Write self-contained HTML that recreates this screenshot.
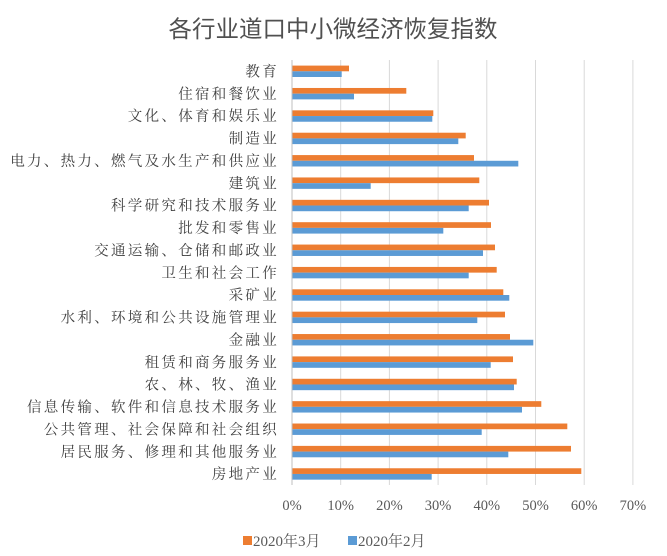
<!DOCTYPE html>
<html><head><meta charset="utf-8"><style>
html,body{margin:0;padding:0;background:#fff;}
svg{display:block;}
.lab{font-family:"Liberation Serif","Noto Serif CJK SC",serif;font-size:14.5px;fill:#404040;letter-spacing:2.3px;}
.tick{font-family:"Liberation Serif","Noto Serif CJK SC",serif;font-size:14.5px;fill:#595959;}
.leg{font-family:"Liberation Serif","Noto Serif CJK SC",serif;font-size:15px;fill:#595959;}
</style></head><body>
<svg width="667" height="556" viewBox="0 0 667 556" xmlns="http://www.w3.org/2000/svg">
<text x="333" y="37" text-anchor="middle" font-family="'Liberation Sans','Noto Sans CJK SC',sans-serif" font-size="23.5" fill="#505050">各行业道口中小微经济恢复指数</text>
<g stroke="#d9d9d9" stroke-width="1">
<line x1="340.7" y1="60" x2="340.7" y2="485"/><line x1="389.4" y1="60" x2="389.4" y2="485"/>
<line x1="438.1" y1="60" x2="438.1" y2="485"/><line x1="486.8" y1="60" x2="486.8" y2="485"/>
<line x1="535.5" y1="60" x2="535.5" y2="485"/><line x1="584.2" y1="60" x2="584.2" y2="485"/>
<line x1="632.9" y1="60" x2="632.9" y2="485"/>
</g>
<line x1="292" y1="60" x2="292" y2="485" stroke="#bfbfbf"/>
<g id="bars"></g>
<g class="tick" text-anchor="middle">
<text x="292" y="510">0%</text><text x="340.7" y="510">10%</text><text x="389.4" y="510">20%</text>
<text x="438.1" y="510">30%</text><text x="486.8" y="510">40%</text><text x="535.5" y="510">50%</text>
<text x="584.2" y="510">60%</text><text x="632.9" y="510">70%</text>
</g>
<rect x="243" y="536" width="9" height="9" fill="#ED7D31"/>
<text x="253" y="546" class="leg">2020年3月</text>
<rect x="348" y="536" width="9" height="9" fill="#5B9BD5"/>
<text x="358" y="546" class="leg">2020年2月</text>
<g id="labs" class="lab" text-anchor="end"></g>
</svg>
<script>
var names=["教育","住宿和餐饮业","文化、体育和娱乐业","制造业","电力、热力、燃气及水生产和供应业","建筑业","科学研究和技术服务业","批发和零售业","交通运输、仓储和邮政业","卫生和社会工作","采矿业","水利、环境和公共设施管理业","金融业","租赁和商务服务业","农、林、牧、渔业","信息传输、软件和信息技术服务业","公共管理、社会保障和社会组织","居民服务、修理和其他服务业","房地产业"];
var o=[349,406.3,433.3,465.7,474,479.3,489,491,495,496.7,503.3,505,510,513,516.7,541.3,567.3,571,581.3];
var b=[341.7,354,432.3,458.3,518.3,370.7,468.7,443.3,483,468.7,509.3,477.3,533.3,490.7,514,522,481.7,508.3,431.7];
var ns="http://www.w3.org/2000/svg",g=document.getElementById("bars"),l=document.getElementById("labs");
for(var i=0;i<19;i++){var y=60+i*22.37;
var r=document.createElementNS(ns,"rect");r.setAttribute("x",292.5);r.setAttribute("y",y+5.6);r.setAttribute("width",o[i]-292.5);r.setAttribute("height",5.7);r.setAttribute("fill","#ED7D31");g.appendChild(r);
r=document.createElementNS(ns,"rect");r.setAttribute("x",292.5);r.setAttribute("y",y+11.3);r.setAttribute("width",b[i]-292.5);r.setAttribute("height",5.7);r.setAttribute("fill","#5B9BD5");g.appendChild(r);
var t=document.createElementNS(ns,"text");t.setAttribute("x",279);t.setAttribute("y",y+16.5);t.textContent=names[i];l.appendChild(t);}
</script>
</body></html>
